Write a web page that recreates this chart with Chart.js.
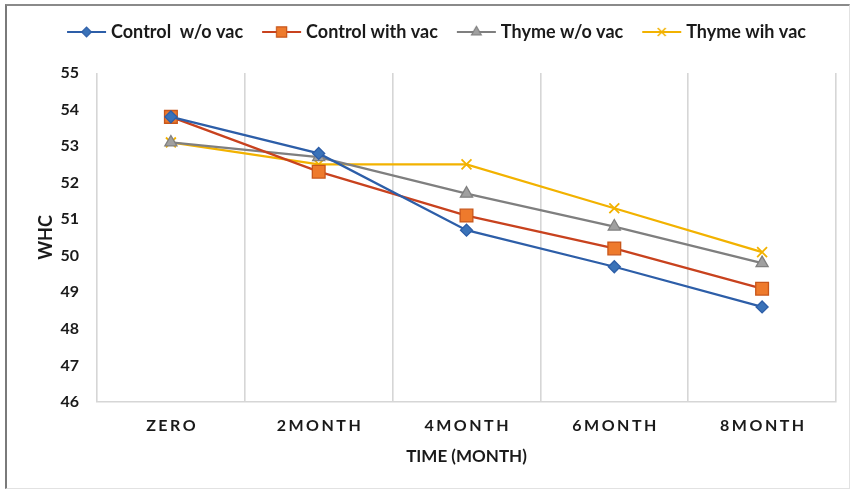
<!DOCTYPE html>
<html>
<head>
<meta charset="utf-8">
<script src="https://cdn.jsdelivr.net/npm/chart.js@4/dist/chart.umd.min.js"></script>
<style>
  html, body { margin: 0; padding: 0; background: #ffffff; }
  #wrap { position: relative; width: 850px; height: 489px; }
  #frame {
    position: absolute; left: 5px; top: 4px; width: 842px; height: 482px;
    border-left: 2px solid #7a7a7a; border-top: 2px solid #8a8a8a;
    border-right: 1px solid #e2e2e2; border-bottom: 1px solid #e2e2e2;
    pointer-events: none;
  }
  canvas { position: absolute; left: 0; top: 0; }
</style>
</head>
<body>
<div id="wrap">
  <canvas id="chart" width="850" height="489"></canvas>
  <div id="frame"></div>
</div>
<script>
// Water holding capacity over storage time
const categories = ['ZERO', '2MONTH', '4MONTH', '6MONTH', '8MONTH'];
const seriesNames = ['Control  w/o vac', 'Control with vac', 'Thyme w/o vac', 'Thyme wih vac'];
const controlNoVac = [53.8, 52.8, 50.7, 49.7, 48.6];
const controlVac = [53.8, 52.3, 51.1, 50.2, 49.1];
const thymeNoVac = [53.1, 52.7, 51.7, 50.8, 49.8];
const thymeVac = [53.1, 52.5, 52.5, 51.3, 50.1];
const yTicks = [46, 47, 48, 49, 50, 51, 52, 53, 54, 55];

const FONT = 'Lato, "Open Sans", sans-serif';
const X_LABEL_SPACING = 2.5;
const LEGEND_SHIFT = 16;

const styles = [
  { line: '#2d5ea8', fill: '#3a72b8', edge: '#2d5ea8', point: 'rectRot', radius: 6 },
  { line: '#c8421e', fill: '#ee7a2c', edge: '#c8561a', point: 'rect', radius: 9 },
  { line: '#7f7f7f', fill: '#a0a0a0', edge: '#808080', point: 'triangle', radius: 7 },
  { line: '#f2b200', fill: '#f5c020', edge: '#f0b400', point: 'crossRot', radius: 7 }
];

const values = [controlNoVac, controlVac, thymeNoVac, thymeVac];

// Line-plus-marker swatch for each legend entry (wider than the box so it
// reaches close to the label text)
function swatch(st) {
  const c = document.createElement('canvas');
  c.width = 50; c.height = 16;
  const g = c.getContext('2d');
  g.strokeStyle = st.line; g.lineWidth = 2.2;
  g.beginPath(); g.moveTo(10, 8); g.lineTo(49, 8); g.stroke();
  g.fillStyle = st.fill; g.strokeStyle = st.point === 'crossRot' ? st.line : st.edge;
  g.lineWidth = st.point === 'crossRot' ? 1.6 : 1.2;
  Chart.helpers.drawPoint(g, { pointStyle: st.point, radius: st.radius * 0.8, borderWidth: g.lineWidth, rotation: 0 }, 29.5, 8);
  return c;
}

const swatches = styles.map(swatch);

const datasets = values.map((v, i) => ({
  label: seriesNames[i],
  data: v,
  borderColor: styles[i].line,
  backgroundColor: styles[i].fill,
  borderWidth: 2.3,
  pointStyle: styles[i].point,
  pointRadius: styles[i].radius,
  pointHoverRadius: styles[i].radius,
  pointBackgroundColor: styles[i].fill,
  pointBorderColor: styles[i].point === 'crossRot' ? styles[i].line : styles[i].edge,
  pointBorderWidth: styles[i].point === 'crossRot' ? 1.8 : 1.3,
  tension: 0,
  fill: false
}));

// Fixed legend band height (nudged right), and spaced-out category labels
const layoutTweaks = {
  id: 'layoutTweaks',
  beforeUpdate(chart) {
    const lg = chart.legend;
    if (lg && !lg._tweaked) {
      const fit = lg.fit;
      lg.fit = function () {
        fit.call(this);
        this.height = 64;
      };
      const draw = lg.draw;
      lg.draw = function () {
        const ctx = this.ctx;
        ctx.save();
        ctx.translate(LEGEND_SHIFT, 0);
        draw.call(this);
        ctx.restore();
      };
      lg._tweaked = true;
    }
  },
  afterUpdate(chart) {
    const xs = chart.scales.x;
    if (xs && !xs._spaced) {
      const orig = xs.drawLabels;
      xs.drawLabels = function (area) {
        const ctx = this.ctx;
        ctx.save();
        ctx.letterSpacing = X_LABEL_SPACING + 'px';
        ctx.translate(X_LABEL_SPACING / 2, 0);
        orig.call(this, area);
        ctx.restore();
      };
      xs._spaced = true;
    }
  }
};

const chart = new Chart(document.getElementById('chart'), {
  type: 'line',
  data: { labels: categories, datasets },
  plugins: [layoutTweaks],
  options: {
    responsive: false,
    animation: false,
    events: [],
    layout: { padding: { left: 0, right: 14, top: 9, bottom: 0 } },
    plugins: {
      tooltip: { enabled: false },
      legend: {
        position: 'top',
        align: 'center',
        labels: {
          usePointStyle: true,
          pointStyleWidth: 40,
          padding: 14,
          color: '#1a1a1a',
          font: { family: FONT, size: 18, weight: 'bold' },
          generateLabels(ch) {
            return ch.data.datasets.map((ds, i) => ({
              text: ds.label,
              pointStyle: swatches[i],
              fillStyle: ds.backgroundColor,
              strokeStyle: ds.borderColor,
              lineWidth: 0,
              hidden: false,
              datasetIndex: i,
              fontColor: '#1a1a1a'
            }));
          }
        }
      }
    },
    scales: {
      x: {
        type: 'category',
        offset: true,
        grid: { display: true, offset: true, color: '#d6d6d6', lineWidth: 1.6, drawTicks: false },
        border: { display: true, color: '#d6d6d6', width: 1.6 },
        ticks: { color: '#1a1a1a', padding: 14, font: { family: FONT, size: 16, weight: 'bold' }, maxRotation: 0 },
        title: {
          display: true, text: 'TIME (MONTH)', color: '#1a1a1a',
          font: { family: FONT, size: 17, weight: 'bold' },
          padding: { top: 0, bottom: 22 }
        },
        afterFit(s) { s.height = 87; }
      },
      y: {
        type: 'linear',
        min: 46, max: 55,
        afterBuildTicks(s) { s.ticks = yTicks.map(v => ({ value: v })); },
        grid: { display: false, drawTicks: false },
        border: { display: false },
        ticks: { color: '#1a1a1a', padding: 18, font: { family: FONT, size: 16, weight: 'bold' } },
        title: {
          display: true, text: 'WHC', color: '#1a1a1a',
          font: { family: FONT, size: 18, weight: 'bold' },
          padding: { top: 35, bottom: 0 }
        },
        afterFit(s) { s.width = 97; }
      }
    }
  }
});
chart.draw();
</script>
</body>
</html>
